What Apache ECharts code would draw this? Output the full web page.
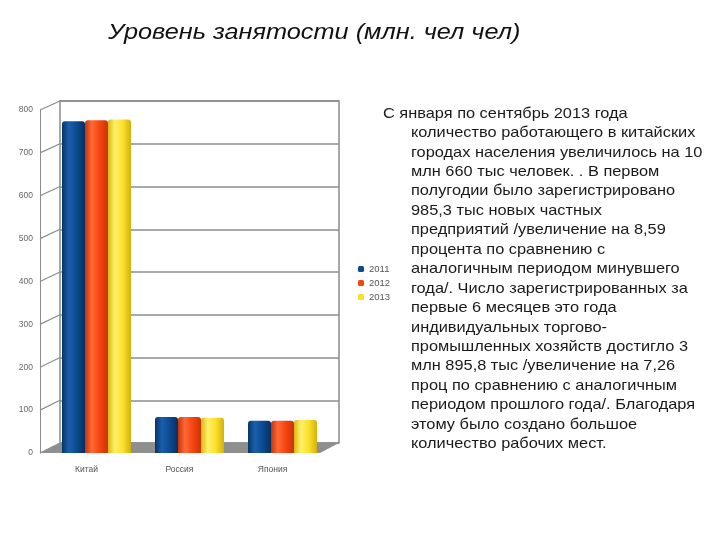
<!DOCTYPE html>
<html><head><meta charset="utf-8">
<script src="https://cdn.jsdelivr.net/npm/echarts@6/dist/echarts.min.js"></script>
<style>html,body{margin:0;padding:0;background:#fff}#c{width:720px;height:540px}</style>
</head><body><div id="c"></div>
<script>
const titleText = 'Уровень занятости (млн. чел чел)';
const categories = ['Китай', 'Россия', 'Япония'];
const years = ['2011', '2012', '2013'];
const values2011 = [774, 84, 75];
const values2012 = [776, 84, 75];
const values2013 = [778, 82, 77];
const yMin = 0, yMax = 800, yStep = 100;
const paragraphFirst = 'С января по сентябрь 2013 года';
const paragraphRest = [
  'количество работающего в китайских',
  'городах населения увеличилось на 10',
  'млн 660 тыс человек. . В первом',
  'полугодии было зарегистрировано',
  '985,3 тыс новых частных',
  'предприятий /увеличение на 8,59',
  'процента по сравнению с',
  'аналогичным периодом минувшего',
  'года/. Число зарегистрированных за',
  'первые 6 месяцев это года',
  'индивидуальных торгово-',
  'промышленных хозяйств достигло 3',
  'млн 895,8 тыс /увеличение на 7,26',
  'проц по сравнению с аналогичным',
  'периодом прошлого года/. Благодаря',
  'этому было создано большое',
  'количество рабочих мест.'
];

const seriesValues = [values2011, values2012, values2013];
const baseColors = ['#0b4a8f', '#f5440f', '#fbe02a'];
const gradients = [
  ['#073566', '#1a5fae', '#0b4a8f', '#06305e'],
  ['#c8330a', '#ff6a35', '#f5440f', '#c9340a'],
  ['#d9b80f', '#fff06a', '#fbe02a', '#d2b10c']
];
function grad(i) {
  const g = gradients[i];
  return new echarts.graphic.LinearGradient(0, 0, 1, 0, [
    {offset: 0, color: g[0]}, {offset: 0.3, color: g[1]},
    {offset: 0.65, color: g[2]}, {offset: 1, color: g[3]}
  ]);
}

const chart = echarts.init(document.getElementById('c'), null, {renderer: 'canvas'});
const font = '"Liberation Sans", Arial, sans-serif';

const textGraphics = [{
  type: 'text', x: 108, y: 22, scaleX: 1.15, z: 10,
  style: {text: titleText, font: 'italic 22px ' + font, fill: '#111', verticalAlign: 'top', align: 'left'}
}, {
  type: 'text', x: 383, y: 106, scaleX: 1.09, z: 10,
  style: {text: paragraphFirst, font: '15px ' + font, fill: '#1a1a1a', verticalAlign: 'top', align: 'left'}
}];
paragraphRest.forEach((line, i) => {
  textGraphics.push({
    type: 'text', x: 411, y: 106 + (i + 1) * 19.45, scaleX: 1.09, z: 10,
    style: {text: line, font: '15px ' + font, fill: '#1a1a1a', verticalAlign: 'top', align: 'left'}
  });
});

chart.setOption({
  animation: false,
  backgroundColor: '#fff',
  legend: {
    data: years.map((y, i) => ({name: y, itemStyle: {color: baseColors[i]}})),
    orient: 'vertical', left: 353, top: 259,
    itemWidth: 6, itemHeight: 6, itemGap: 4,
    textStyle: {fontSize: 9.5, color: '#555', fontFamily: font}
  },
  grid: [
    {left: 60, right: 381, top: 101, bottom: 97, show: true, borderColor: '#8c8c8c', borderWidth: 1.5, backgroundColor: '#fff', z: 0},
    {left: 50, right: 391, top: 110, bottom: 87}
  ],
  xAxis: [
    {gridIndex: 0, type: 'category', data: categories, show: false},
    {gridIndex: 1, type: 'category', data: categories,
     axisLine: {show: false}, axisTick: {show: false},
     axisLabel: {fontSize: 8.5, color: '#555', fontFamily: font, margin: 12, padding: [0, 20, 0, 0]}}
  ],
  yAxis: [
    {gridIndex: 0, type: 'value', min: yMin, max: yMax, interval: yStep,
     axisLabel: {show: false}, axisLine: {show: false}, axisTick: {show: false},
     splitLine: {lineStyle: {color: '#8c8c8c', width: 1.5}}},
    {gridIndex: 1, type: 'value', min: yMin, max: yMax, interval: yStep, offset: 10,
     axisLine: {show: true, lineStyle: {color: '#8c8c8c', width: 1}},
     axisTick: {show: false}, splitLine: {show: false},
     axisLabel: {fontSize: 8.5, color: '#666', fontFamily: font, margin: 7}}
  ],
  series: years.map((y, i) => ({
    name: y, type: 'bar', xAxisIndex: 1, yAxisIndex: 1,
    data: seriesValues[i], barWidth: 23, barGap: '0%', z: 5,
    itemStyle: {color: grad(i), borderRadius: [3, 3, 0, 0]}
  })),
  graphic: textGraphics
});

// side wall and floor, positioned through the axes' own scales
const extra = [];
for (let v = yMin; v <= yMax; v += yStep) {
  const yf = chart.convertToPixel({yAxisIndex: 1}, v);
  const yb = chart.convertToPixel({yAxisIndex: 0}, v);
  extra.push({type: 'line', z: 1, shape: {x1: 40, y1: yf, x2: 60, y2: yb},
    style: {stroke: '#8c8c8c', lineWidth: 1.2}});
}
const yf0 = chart.convertToPixel({yAxisIndex: 1}, 0);
const yb0 = chart.convertToPixel({yAxisIndex: 0}, 0);
extra.push({type: 'polygon', z: 1,
  shape: {points: [[40, yf0], [60, yb0], [339, yb0], [320, yf0]]},
  style: {fill: '#8f8f8f'}});
chart.setOption({graphic: textGraphics.concat(extra)});
</script>
</body></html>
